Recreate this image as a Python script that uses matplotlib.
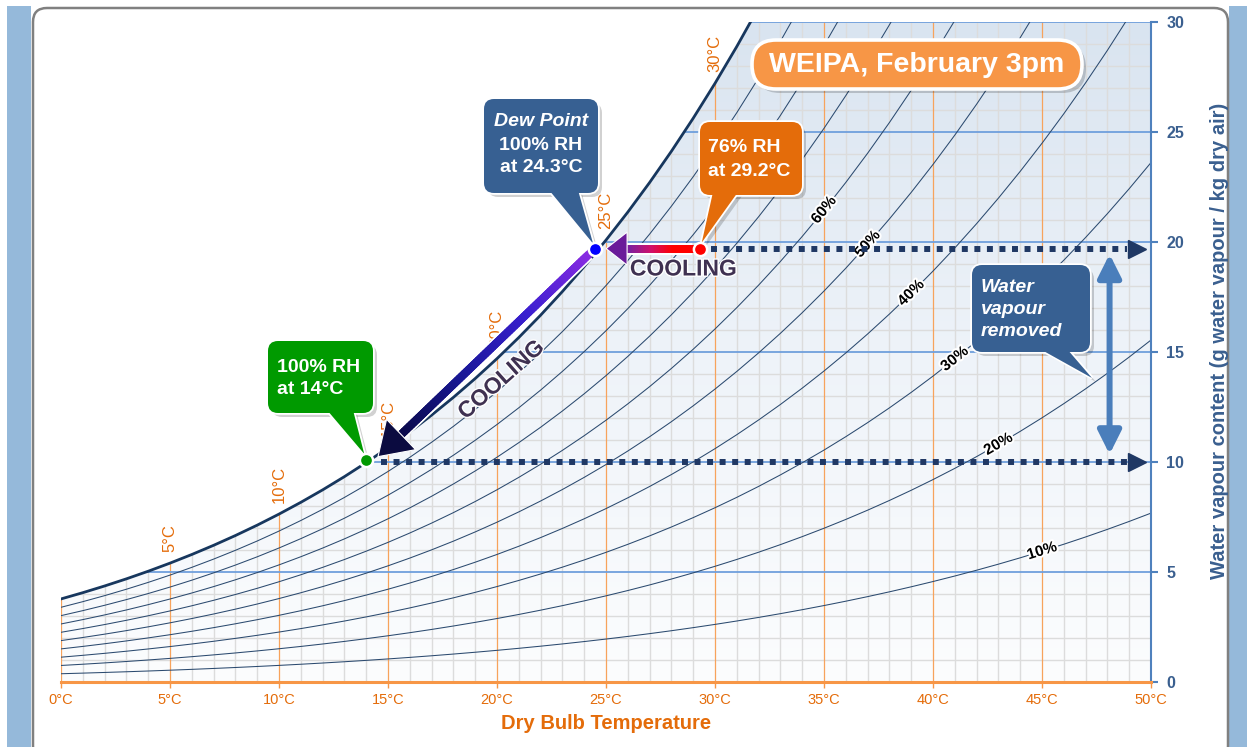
import numpy as np
import matplotlib
matplotlib.use('Agg')
import matplotlib.pyplot as plt
import matplotlib.transforms as mtrans
import matplotlib.patheffects as pe
from matplotlib.patches import FancyBboxPatch, Polygon, Rectangle
from matplotlib.collections import LineCollection
from matplotlib.colors import LinearSegmentedColormap

plt.rcParams['font.family'] = ['Liberation Sans', 'DejaVu Sans']

# ---- data ----
temps = list(range(0, 51))  # dry bulb, deg C
# saturation vapour pressure (kPa) used by the chart for each degree
sat_kpa = [0.6113, 0.6571, 0.7060, 0.7581, 0.8136, 0.8726, 0.9354, 1.0021, 1.0730, 1.1482,
           1.2282, 1.3130, 1.4028, 1.4981, 1.5990, 1.7058, 1.8188, 1.9384, 2.0647, 2.1983,
           2.3393, 2.4882, 2.6453, 2.8111, 2.9858, 3.1699, 3.3639, 3.5681, 3.7831, 4.0092,
           4.2470, 4.4969, 4.7596, 5.0354, 5.3251, 5.6290, 5.9479, 6.2823, 6.6328, 7.0002,
           7.3849, 7.7878, 8.2096, 8.6508, 9.1124, 9.5950, 10.0994, 10.6264, 11.1769, 11.7517,
           12.3517]
air_pressure = 101.325
rh_levels = [10, 20, 30, 40, 50, 60, 70, 80, 90]
rh_label_levels = [10, 20, 30, 40, 50, 60]
rh_label_temps = [45, 43, 41, 39, 37, 35]
curve_label_temps = [5, 10, 15, 20, 25, 30]
temp_ticks = [0, 5, 10, 15, 20, 25, 30, 35, 40, 45, 50]
w_ticks = [0, 5, 10, 15, 20, 25, 30]

start_air = (29.3, 19.7)    # 76% RH at 29.2C
dew_point = (24.5, 19.7)    # 100% RH at 24.3C
cooled_air = (14.0, 10.1)   # 100% RH at 14C
removed_t = 48.1
removed_w = [19.45, 10.35]
line_end_t = 48.9
head_t = 49.35


def ratio(rh):
    ps = np.array(sat_kpa) * rh / 100.0
    return 622.0 * ps / (air_pressure - ps)


W, H = 1247, 747
fig = plt.figure(figsize=(W / 100, H / 100), dpi=100)
pix = mtrans.Affine2D().scale(1, -1).translate(0, H)  # pixel coords, y from top

# page background: blue strips + rounded white panel
for r in [Rectangle((7, 6), 24, 741), Rectangle((1229, 6), 18, 741)]:
    r.set(facecolor='#95b9da', edgecolor='none', transform=pix, zorder=-5)
    fig.patches.append(r)
panel = FancyBboxPatch((33, 8), 1195, 752, boxstyle='round,pad=0,rounding_size=14',
                       facecolor='white', edgecolor='#808080', lw=1.8, transform=pix, zorder=-4)
fig.patches.append(panel)

ax = fig.add_axes([61 / W, 1 - 682 / H, 1090 / W, 660 / H])
ax.set_xlim(0, 50)
ax.set_ylim(0, 30)
ax.set_facecolor('none')


def to_px(t, w):
    d = ax.transData.transform((t, w))
    return d[0], H - d[1]


sat_w = ratio(100)
clip = Polygon([(0, 0)] + list(zip(temps, sat_w)) + [(50, 0)], closed=True,
               transform=ax.transData, facecolor='none', edgecolor='none')

# gradient under the saturation line
cmap = LinearSegmentedColormap.from_list('bg', ['#fcfdfe', '#eef3f9', '#d9e4f0'])
im = ax.imshow(np.linspace(0, 1, 256).reshape(-1, 1), extent=[0, 50, 0, 30], origin='lower',
               cmap=cmap, aspect='auto', zorder=0)
im.set_clip_path(clip)

# grid
for t in range(51):
    if t % 5 == 0:
        ln = ax.axvline(t, color='#f7a35c', lw=0.9, zorder=1.5)
    else:
        ln = ax.axvline(t, color='#dcdcdc', lw=1.0, zorder=1)
    ln.set_clip_path(clip)
for w in range(1, 31):
    if w % 5 == 0:
        ln = ax.axhline(w, color='#6f9fdc', lw=1.3, zorder=1.6)
    else:
        ln = ax.axhline(w, color='#dcdcdc', lw=1.0, zorder=1)
    ln.set_clip_path(clip)

# relative humidity curves
for rh in rh_levels:
    ax.plot(temps, ratio(rh), color='#2b4a6f', lw=0.75, zorder=2)
ax.plot(temps, sat_w, color='#17375e', lw=2.0, zorder=3)

for rh, t in zip(rh_label_levels, rh_label_temps):
    w = ratio(rh)[t]
    p0 = ax.transData.transform((t - 0.5, ratio(rh)[t - 1] + (w - ratio(rh)[t - 1]) * 0.5))
    p1 = ax.transData.transform((t + 0.5, w + (ratio(rh)[t + 1] - w) * 0.5))
    ang = np.degrees(np.arctan2(p1[1] - p0[1], p1[0] - p0[0]))
    ax.text(t, w, f'{rh}%', rotation=ang, rotation_mode='anchor', ha='center', va='center',
            fontsize=11, fontweight='bold', color='black', zorder=4,
            path_effects=[pe.withStroke(linewidth=3, foreground='white')])

for t in curve_label_temps:
    ax.annotate(f'{t}°C', xy=(t, sat_w[t]), xytext=(0, 8), textcoords='offset points',
                rotation=90, ha='center', va='bottom', color='#e46c0a', fontsize=12, zorder=4)

# axes styling
for s in ['left', 'top']:
    ax.spines[s].set_visible(False)
ax.spines['bottom'].set_color('#f79646')
ax.spines['bottom'].set_linewidth(2.2)
ax.spines['right'].set_color('#4f81bd')
ax.spines['right'].set_linewidth(1.5)
ax.set_xticks(temp_ticks)
ax.set_xticklabels([f'{t}°C' for t in temp_ticks])
ax.tick_params(axis='x', colors='#f79646', length=4, width=1, labelcolor='#e46c0a',
               labelsize=10.5, pad=4)
ax.yaxis.tick_right()
ax.set_yticks(w_ticks)
ax.tick_params(axis='y', colors='#4f81bd', length=5, width=1.5, labelcolor='#3a5f8f',
               labelsize=11.5, pad=6)
for lb in ax.get_yticklabels():
    lb.set_fontweight('bold')
ax.set_xlabel('Dry Bulb Temperature', color='#e46c0a', fontsize=14.5, fontweight='bold', labelpad=5)
ax.yaxis.set_label_position('right')
ax.set_ylabel('Water vapour content (g water vapour / kg dry air)', color='#3a5f8f',
              fontsize=14.5, fontweight='bold', rotation=90, labelpad=10)
ax.yaxis.set_label_coords(1.054, 0.517)

# dotted guide lines with arrowheads
navy = '#1f3864'
for x0, w in [(start_air[0] + 0.5, start_air[1]), (cooled_air[0] + 0.7, 10.0)]:
    ax.plot([x0, line_end_t], [w, w], color=navy, lw=4.3, dashes=(1, 1.1),
            dash_capstyle='butt', zorder=4)
    ax.plot([head_t], [w], marker='>', ms=13, color=navy, mec=navy, zorder=4, clip_on=False)

# water vapour removed double arrow
ax.annotate('', xy=(removed_t, removed_w[1]), xytext=(removed_t, removed_w[0]),
            arrowprops=dict(arrowstyle='<|-|>,head_length=1.0,head_width=0.5', lw=4.3,
                            color='#4a7ebb', mutation_scale=14, shrinkA=0, shrinkB=0), zorder=4)


def grad_arrow(p_from, p_to, cols, shaft, head_len, head_w, head_col, z):
    a = np.array(p_from, float)
    b = np.array(p_to, float)
    u = (b - a) / np.hypot(*(b - a))
    n = np.array([-u[1], u[0]])
    base = b - u * head_len
    ax.plot([a[0], base[0] + u[0] * 2], [a[1], base[1] + u[1] * 2], color='white',
            lw=(shaft + 4) * 0.72, solid_capstyle='butt', transform=pix, zorder=z, clip_on=False)
    pts = np.linspace(0, 1, 80)
    xy = a + np.outer(pts, base + u * 2 - a)
    segs = np.stack([xy[:-1], xy[1:]], axis=1)
    cm = LinearSegmentedColormap.from_list('g', cols)
    lc = LineCollection(segs, colors=cm(pts[:-1]), linewidths=shaft * 0.72,
                        capstyle='projecting', transform=pix, zorder=z + 0.1, clip_on=False)
    ax.add_collection(lc)
    head = Polygon([b, base + n * head_w / 2, base - n * head_w / 2], closed=True,
                   facecolor=head_col, edgecolor='white', lw=0.8, transform=pix,
                   zorder=z + 0.2, clip_on=False)
    ax.add_patch(head)


sx, sy = to_px(*start_air)
dx, dy = to_px(*dew_point)
gx, gy = to_px(*cooled_air)
grad_arrow((sx - 8, sy), (dx + 11, dy), ['#ff0000', '#ff0000', '#d0106a', '#7a1fa0'],
           8, 21, 33, '#6a1b9a', 5)
v = np.array([gx - dx, gy - dy])
v = v / np.hypot(*v)
grad_arrow((dx + v[0] * 9, dy + v[1] * 9), (gx - v[0] * 12 + 3, gy - v[1] * 12 + 5),
           ['#8a2be2', '#3a1fd0', '#1a1899', '#0a0a4a'], 8, 32, 42, '#0b0b40', 5)

ax.text(683, 269, 'COOLING', transform=pix, ha='center', va='center', fontsize=16.5,
        fontweight='bold', color='#3f3151', zorder=6,
        path_effects=[pe.withStroke(linewidth=2, foreground='white')])
ax.text(501, 380, 'COOLING', transform=pix, ha='center', va='center', fontsize=16.5,
        fontweight='bold', color='#3f3151', rotation=41.7, rotation_mode='anchor', zorder=6,
        path_effects=[pe.withStroke(linewidth=2, foreground='white')])

# the three state points
for (t, w), c in [(start_air, '#ff0000'), (dew_point, '#0000ff'), (cooled_air, '#009900')]:
    ax.plot([t], [w], 'o', ms=9.5, color=c, mec='white', mew=1.8, zorder=9)


def callout(x0, y0, x1, y1, tail, color, r=10):
    for dxs, dys, fc, ec, lw, al, z in [(4, 4, 'black', 'none', 0, 0.18, 6.0),
                                        (0, 0, color, 'white', 2.6, 1, 6.1),
                                        (0, 0, color, 'none', 0, 1, 6.2)]:
        bx = FancyBboxPatch((x0 + dxs, y0 + dys), x1 - x0, y1 - y0,
                            boxstyle=f'round,pad=0,rounding_size={r}', facecolor=fc,
                            edgecolor=ec, lw=lw, alpha=al, transform=pix, zorder=z, clip_on=False)
        tl = Polygon([(px + dxs, py + dys) for px, py in tail], closed=True, facecolor=fc,
                     edgecolor=ec, lw=lw, alpha=al, transform=pix, zorder=z, clip_on=False,
                     joinstyle='miter')
        if dxs == 0 and ec == 'none':
            bx.set_zorder(6.25)
        ax.add_patch(bx)
        ax.add_patch(tl)


blue_box = '#376092'
callout(484, 99, 598, 193, [(549, 190), (dx - 2, dy - 5), (578, 190)], blue_box)
ax.text(541, 122, 'Dew Point', transform=pix, ha='center', va='center', color='white',
        fontsize=14, fontweight='bold', fontstyle='italic', zorder=7)
ax.text(541, 145, '100% RH', transform=pix, ha='center', va='center', color='white',
        fontsize=14, fontweight='bold', zorder=7)
ax.text(541, 168, 'at 24.3°C', transform=pix, ha='center', va='center', color='white',
        fontsize=14, fontweight='bold', zorder=7)

callout(700, 122, 802, 195, [(713, 192), (sx + 2, sy - 6), (738, 192)], '#e46c0a')
ax.text(708, 148, '76% RH', transform=pix, ha='left', va='center', color='white',
        fontsize=14, fontweight='bold', zorder=7)
ax.text(708, 172, 'at 29.2°C', transform=pix, ha='left', va='center', color='white',
        fontsize=14, fontweight='bold', zorder=7)

callout(268, 341, 373, 413, [(327, 410), (gx - 2, gy - 6), (353, 410)], '#009a00')
ax.text(277, 367, '100% RH', transform=pix, ha='left', va='center', color='white',
        fontsize=14, fontweight='bold', zorder=7)
ax.text(277, 390, 'at 14°C', transform=pix, ha='left', va='center', color='white',
        fontsize=14, fontweight='bold', zorder=7)

callout(972, 265, 1090, 352, [(1040, 349), (1092, 378), (1067, 349)], blue_box)
for yy, s in [(287, 'Water'), (310, 'vapour'), (332, 'removed')]:
    ax.text(981, yy, s, transform=pix, ha='left', va='center', color='white',
            fontsize=14, fontweight='bold', fontstyle='italic', zorder=7)

# title pill
for dxs, dys, fc, ec, lw, al in [(4, 4, 'black', 'none', 0, 0.18), (0, 0, '#f79646', 'white', 2.6, 1)]:
    ax.add_patch(FancyBboxPatch((752 + dxs, 40 + dys), 330, 49,
                                boxstyle='round,pad=0,rounding_size=24', facecolor=fc,
                                edgecolor=ec, lw=lw, alpha=al, transform=pix, zorder=6,
                                clip_on=False))
ax.text(917, 65, 'WEIPA, February 3pm', transform=pix, ha='center', va='center',
        color='white', fontsize=20.5, fontweight='bold', zorder=7)

fig.savefig('out.png', dpi=100)
